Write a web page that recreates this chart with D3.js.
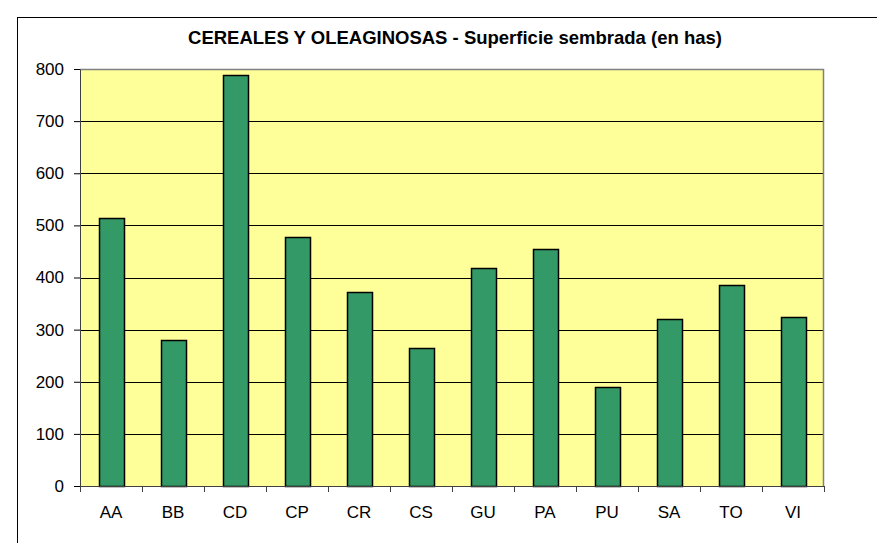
<!DOCTYPE html>
<html>
<head>
<meta charset="utf-8">
<script src="https://cdn.jsdelivr.net/npm/d3@7"></script>
<style>
  body { margin: 0; background: #fff; }
  svg text { font-family: "Liberation Sans", Arial, sans-serif; fill: #000; }
</style>
</head>
<body>
<svg id="chart" width="877" height="543"></svg>
<script>
// regions
const categories = ["AA", "BB", "CD", "CP", "CR", "CS", "GU", "PA", "PU", "SA", "TO", "VI"];
// sown area (has)
const values = [514, 280, 788, 478, 373, 265, 419, 455, 190, 320, 386, 324];
const yTicks = [0, 100, 200, 300, 400, 500, 600, 700, 800];
const title = "CEREALES Y OLEAGINOSAS - Superficie sembrada (en has)";

const margin = { top: 69, right: 53, bottom: 57, left: 80 };
const width = 877 - margin.left - margin.right;
const height = 543 - margin.top - margin.bottom;

const svg = d3.select("#chart");

// outer frame (runs off the right and bottom of the picture)
svg.append("rect")
    .attr("x", 17.5).attr("y", 17.5)
    .attr("width", 900).attr("height", 600)
    .attr("fill", "#fff").attr("stroke", "#000").attr("stroke-width", 1);

svg.append("text")
    .attr("x", 455).attr("y", 44)
    .attr("text-anchor", "middle")
    .style("font-size", "18.5px").style("font-weight", "bold")
    .text(title);

const g = svg.append("g").attr("transform", `translate(${margin.left},${margin.top})`);

const x = d3.scaleBand().domain(categories).range([0, width]).paddingInner(0.6).paddingOuter(0.3);
const y = d3.scaleLinear().domain([0, 800]).range([height, 0]);

// plot background
g.append("rect")
    .attr("width", width).attr("height", height)
    .attr("fill", "#ffff99");

// gridlines
g.append("g").selectAll("line").data(yTicks.slice(1)).join("line")
    .attr("x1", 0).attr("x2", width)
    .attr("y1", d => Math.round(y(d)) + 0.5).attr("y2", d => Math.round(y(d)) + 0.5)
    .attr("stroke", "#000").attr("stroke-width", 1);

// plot border top/right
g.append("path")
    .attr("d", `M0,0.5H${width - 0.5}V${height}`)
    .attr("fill", "none").attr("stroke", "#808080").attr("stroke-width", 1.5);

// bars
g.append("g").selectAll("rect").data(values).join("rect")
    .attr("x", (d, i) => Math.round(x(categories[i])) + 0.5)
    .attr("y", d => Math.round(y(d)) + 0.5)
    .attr("width", Math.round(x.bandwidth()))
    .attr("height", d => height - Math.round(y(d)))
    .attr("fill", "#339966").attr("stroke", "#000").attr("stroke-width", 1.5);

// y axis
const yAxis = g.append("g")
    .call(d3.axisLeft(y).tickValues(yTicks).tickSize(6).tickSizeOuter(0).tickPadding(10));
yAxis.select(".domain").attr("stroke", "#404040");
yAxis.selectAll("text").style("font-size", "17px");

// x axis with ticks at category boundaries
const xb = d3.scaleLinear().domain([0, categories.length]).range([0, width]);
const xAxis = g.append("g").attr("transform", `translate(0,${height})`);
xAxis.append("line")
    .attr("x1", 0).attr("x2", width).attr("y1", 0.5).attr("y2", 0.5)
    .attr("stroke", "#404040");
xAxis.selectAll("line.tick").data(d3.range(categories.length + 1)).join("line")
    .attr("class", "tick")
    .attr("x1", d => Math.round(xb(d)) + 0.5).attr("x2", d => Math.round(xb(d)) + 0.5)
    .attr("y1", 0).attr("y2", 6)
    .attr("stroke", "#404040");
xAxis.selectAll("text").data(categories).join("text")
    .attr("x", d => x(d) + x.bandwidth() / 2)
    .attr("y", 32)
    .attr("text-anchor", "middle")
    .style("font-size", "17px")
    .text(d => d);
</script>
</body>
</html>
